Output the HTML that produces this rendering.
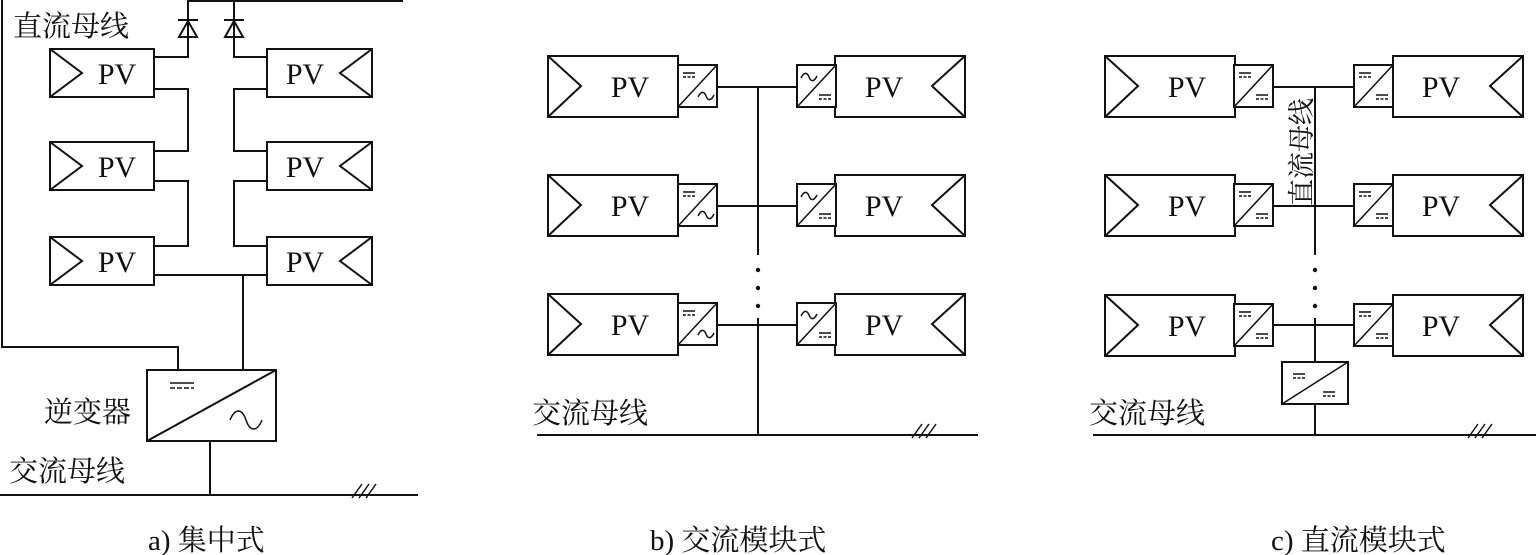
<!DOCTYPE html>
<html><head><meta charset="utf-8"><style>
html,body{margin:0;padding:0;background:#fff;}
svg{display:block;}
.t{font-family:"Liberation Serif","Noto Serif CJK SC",serif;fill:#111;}
</style></head><body>
<svg width="1536" height="555" viewBox="0 0 1536 555" xmlns="http://www.w3.org/2000/svg">
<defs>
<g id="pvL"><rect x="0" y="0" width="130" height="61" fill="none" stroke="#111" stroke-width="2"/><polyline points="0,0 33,30 0,61" fill="none" stroke="#111" stroke-width="2"/></g>
<g id="pvR"><rect x="0" y="0" width="130" height="61" fill="none" stroke="#111" stroke-width="2"/><polyline points="130,0 97,30 130,61" fill="none" stroke="#111" stroke-width="2"/></g>
<g id="pvA"><rect x="0" y="0" width="104" height="48" fill="none" stroke="#111" stroke-width="2"/><polyline points="0,0 32,24 0,48" fill="none" stroke="#111" stroke-width="2"/></g>
<g id="pvAR"><rect x="0" y="0" width="105" height="48" fill="none" stroke="#111" stroke-width="2"/><polyline points="105,0 73,24 105,48" fill="none" stroke="#111" stroke-width="2"/></g>
<g id="dc"><line x1="0" y1="0" x2="12" y2="0" stroke="#111" stroke-width="1.5"/><line x1="0" y1="4" x2="12" y2="4" stroke="#111" stroke-width="1.5" stroke-dasharray="3,1.5"/></g>
<path id="ac" d="M0,4 C3,-2 6,-2 8,3 C10,8 13,8 16,2" fill="none" stroke="#111" stroke-width="1.5"/>
<g id="cDA"><rect x="0" y="0" width="39" height="42" fill="#fff" stroke="#111" stroke-width="2"/><line x1="0" y1="42" x2="39" y2="0" stroke="#111" stroke-width="1.5"/><use href="#dc" x="5" y="8"/><use href="#ac" x="20" y="28"/></g>
<g id="cAD"><rect x="0" y="0" width="39" height="42" fill="#fff" stroke="#111" stroke-width="2"/><line x1="0" y1="42" x2="39" y2="0" stroke="#111" stroke-width="1.5"/><use href="#ac" x="4" y="9"/><use href="#dc" x="22" y="30"/></g>
<g id="cDD"><rect x="0" y="0" width="39" height="42" fill="#fff" stroke="#111" stroke-width="2"/><line x1="0" y1="42" x2="39" y2="0" stroke="#111" stroke-width="1.5"/><use href="#dc" x="5" y="8"/><use href="#dc" x="22" y="30"/></g>
<g id="hash"><line x1="0" y1="8" x2="10" y2="-6" stroke="#111" stroke-width="1.5"/><line x1="7" y1="8" x2="17" y2="-6" stroke="#111" stroke-width="1.5"/><line x1="14" y1="8" x2="24" y2="-6" stroke="#111" stroke-width="1.5"/></g>
</defs>

<!-- Panel a -->
<g stroke="#111" stroke-width="2" fill="none">
<polyline points="188,1 403,1"/>
<polyline points="2,0 2,347 178,347 178,370"/>
<polyline points="188,0 188,57 154,57"/>
<polyline points="234,0 234,57 267,57"/>
<polyline points="154,89 188,89 188,151 154,151"/>
<polyline points="154,181 188,181 188,246 154,246"/>
<polyline points="267,89 234,89 234,151 267,151"/>
<polyline points="267,181 234,181 234,246 267,246"/>
<line x1="154" y1="275" x2="267" y2="275"/>
<line x1="243" y1="275" x2="243" y2="370"/>
<rect x="147" y="370" width="129" height="71"/>
<line x1="147" y1="441" x2="276" y2="370"/>
<line x1="210" y1="441" x2="210" y2="495"/>
<line x1="0" y1="495" x2="418" y2="495"/>
<line x1="178" y1="20" x2="198" y2="20"/><polygon points="188,21 179,37 197,37"/>
<line x1="224" y1="20" x2="244" y2="20"/><polygon points="234,21 225,37 243,37"/>
</g>
<use href="#pvA" x="50" y="49"/><use href="#pvA" x="50" y="142"/><use href="#pvA" x="50" y="237"/>
<use href="#pvAR" x="267" y="49"/><use href="#pvAR" x="267" y="142"/><use href="#pvAR" x="267" y="237"/>
<g class="t" font-size="30" text-anchor="middle">
<text x="117" y="84">PV</text><text x="117" y="177">PV</text><text x="117" y="272">PV</text>
<text x="305" y="84">PV</text><text x="305" y="177">PV</text><text x="305" y="272">PV</text>
</g>
<g stroke="#111" stroke-width="1.5" fill="none">
<line x1="170" y1="383" x2="194" y2="383"/><line x1="170" y1="388" x2="194" y2="388" stroke-dasharray="5,2"/>
<path d="M230,420 C235,408 242,408 246,420 C250,432 257,432 262,420"/>
</g>
<use href="#hash" x="352" y="490"/>
<g class="t" font-size="29">
<text x="13" y="36">直流母线</text>
<text x="44" y="422">逆变器</text>
<text x="9" y="481">交流母线</text>
<text x="148" y="550">a) 集中式</text>
</g>

<!-- Panel b -->
<g stroke="#111" stroke-width="2" fill="none">
<line x1="717" y1="87" x2="797" y2="87"/>
<line x1="717" y1="206" x2="797" y2="206"/>
<line x1="717" y1="325" x2="797" y2="325"/>
<line x1="758" y1="87" x2="758" y2="255"/>
<line x1="758" y1="318" x2="758" y2="435"/>
<line x1="537" y1="435" x2="978" y2="435"/>
</g>
<g fill="#111"><circle cx="758" cy="270" r="2.2"/><circle cx="758" cy="288" r="2.2"/><circle cx="758" cy="306" r="2.2"/></g>
<use href="#pvL" x="548" y="56"/><use href="#pvL" x="548" y="175"/><use href="#pvL" x="548" y="294"/>
<use href="#pvR" x="835" y="56"/><use href="#pvR" x="835" y="175"/><use href="#pvR" x="835" y="294"/>
<use href="#cDA" x="678" y="65"/><use href="#cDA" x="678" y="184"/><use href="#cDA" x="678" y="303"/>
<use href="#cAD" x="797" y="65"/><use href="#cAD" x="797" y="184"/><use href="#cAD" x="797" y="303"/>
<use href="#hash" x="912" y="430"/>
<g class="t" font-size="30" text-anchor="middle">
<text x="630" y="97">PV</text><text x="630" y="216">PV</text><text x="630" y="335">PV</text>
<text x="884" y="97">PV</text><text x="884" y="216">PV</text><text x="884" y="335">PV</text>
</g>
<g class="t" font-size="29">
<text x="532" y="423">交流母线</text>
<text x="650" y="550">b) 交流模块式</text>
</g>

<!-- Panel c -->
<g stroke="#111" stroke-width="2" fill="none">
<line x1="1273" y1="87" x2="1353" y2="87"/>
<line x1="1273" y1="206" x2="1353" y2="206"/>
<line x1="1273" y1="325" x2="1353" y2="325"/>
<line x1="1315" y1="87" x2="1315" y2="255"/>
<line x1="1315" y1="318" x2="1315" y2="362"/>
<line x1="1315" y1="404" x2="1315" y2="435"/>
<line x1="1093" y1="435" x2="1536" y2="435"/>
<rect x="1282" y="362" width="66" height="42"/>
<line x1="1282" y1="404" x2="1348" y2="362" stroke-width="1.5"/>
</g>
<use href="#dc" x="1293" y="374"/><use href="#dc" x="1323" y="392"/>
<g fill="#111"><circle cx="1315" cy="270" r="2.2"/><circle cx="1315" cy="288" r="2.2"/><circle cx="1315" cy="306" r="2.2"/></g>
<use href="#pvL" x="1105" y="56"/><use href="#pvL" x="1105" y="175"/><use href="#pvL" x="1105" y="295"/>
<use href="#pvR" x="1393" y="56"/><use href="#pvR" x="1393" y="175"/><use href="#pvR" x="1393" y="295"/>
<use href="#cDD" x="1234" y="65"/><use href="#cDD" x="1234" y="184"/><use href="#cDD" x="1234" y="304"/>
<use href="#cDD" x="1354" y="65"/><use href="#cDD" x="1354" y="184"/><use href="#cDD" x="1354" y="304"/>
<use href="#hash" x="1468" y="430"/>
<g class="t" font-size="30" text-anchor="middle">
<text x="1187" y="97">PV</text><text x="1187" y="216">PV</text><text x="1187" y="336">PV</text>
<text x="1441" y="97">PV</text><text x="1441" y="216">PV</text><text x="1441" y="336">PV</text>
</g>
<g class="t" font-size="29">
<text x="1089" y="423">交流母线</text>
<text x="1271" y="550">c) 直流模块式</text>
</g>
<text class="t" font-size="27" transform="translate(1311,206) rotate(-90)">直流母线</text>
</svg>
</body></html>
